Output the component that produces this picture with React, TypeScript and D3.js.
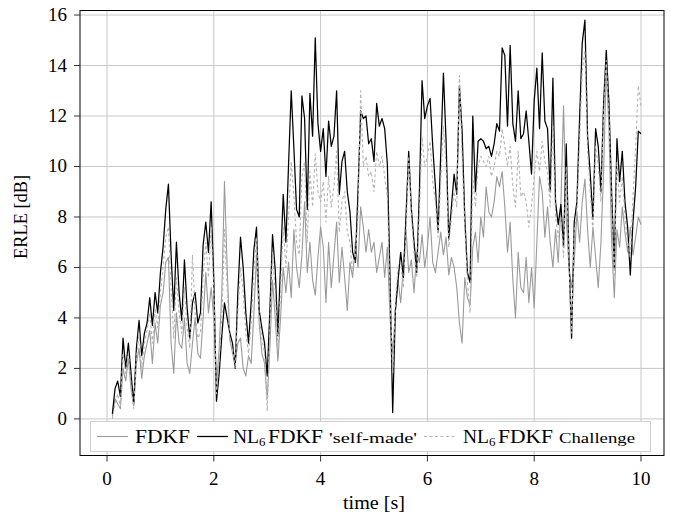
import React, { useMemo } from 'react';
import * as d3 from 'd3';

// ERLE over time, sampled every 50 ms starting at 0.1 s
const T_START = 0.1;
const T_STEP = 0.05;

const fdkf = [
  0.1, 0.8, 0.6, 0.4, 2.0, 1.5, 2.4, 1.2, 0.5, 2.2,
  2.8, 1.6, 2.5, 3.0, 3.5, 2.2, 3.8, 3.0, 4.5, 5.0,
  6.2, 6.4, 3.0, 1.8, 4.2, 3.0, 2.8, 4.0, 2.2, 1.8,
  3.0, 4.0, 2.6, 2.4, 4.0, 5.8, 4.2, 5.2, 4.0, 1.3,
  2.8, 5.0, 9.4, 6.0, 3.2, 2.6, 2.2, 3.0, 3.2, 2.0,
  1.7, 2.5, 2.2, 4.2, 6.5, 3.8, 2.6, 2.2, 0.8, 2.8,
  5.5, 4.0, 2.3, 4.0, 6.0, 5.0, 6.2, 4.8, 7.5, 6.0,
  5.2, 6.5, 8.6, 5.8, 7.0, 5.5, 4.9, 6.4, 7.6, 6.8,
  4.6, 7.0, 5.2, 6.5, 7.8, 5.4, 6.8, 5.6, 4.3, 6.2,
  5.6, 7.0, 6.0, 8.4, 7.6, 6.6, 7.5, 6.6, 7.0, 5.8,
  6.4, 7.0, 5.6, 6.8, 4.0, 2.6, 4.2, 5.5, 4.6, 6.0,
  7.5, 5.8, 6.3, 5.0, 6.6, 6.2, 7.3, 6.0, 6.8, 8.0,
  6.2, 5.8, 6.6, 7.4, 6.5, 7.2, 5.7, 6.4, 6.0, 5.2,
  3.8, 3.0, 5.6, 4.8, 4.5, 6.8, 7.4, 6.2, 8.0, 7.2,
  9.2, 8.2, 8.0, 8.6, 9.6, 9.2, 9.8, 8.4, 6.6, 7.8,
  5.5, 4.0, 6.6, 5.2, 5.0, 6.4, 4.6, 6.0, 4.4, 7.0,
  9.6, 9.0, 7.2, 8.4, 7.0, 6.0, 7.5, 6.2, 8.5, 12.4,
  8.0, 6.0, 5.2, 6.2, 8.2, 7.0, 8.6, 9.5, 7.5, 6.0,
  7.6, 6.4, 5.2, 7.0, 9.8, 13.9, 11.5, 7.0, 4.8, 7.5,
  6.8, 8.4, 7.4, 6.6, 7.6, 6.5, 7.2, 8.0, 7.7,
];

const selfMade = [
  0.2, 1.2, 1.5, 0.9, 3.2, 2.0, 3.0, 1.8, 0.6, 2.8,
  3.9, 2.5, 3.4, 3.8, 4.8, 3.7, 5.0, 4.2, 5.8, 6.8,
  8.3, 9.3, 6.5, 4.3, 7.0, 5.0, 3.9, 6.3, 4.4, 3.2,
  4.6, 5.0, 3.8, 4.2, 6.9, 7.8, 6.6, 8.6, 5.5, 0.7,
  1.8, 3.3, 4.6, 4.0, 3.4, 3.0, 2.0, 5.0, 7.2, 6.0,
  4.2, 3.0, 4.6, 6.7, 7.6, 4.3, 3.6, 3.0, 1.7, 4.3,
  7.3, 5.9, 3.3, 6.1, 8.9, 7.0, 10.1, 13.0, 10.7, 8.3,
  8.0, 12.8, 11.9, 8.3, 12.9, 11.2, 15.1, 11.7, 10.6, 11.5,
  9.6, 11.8, 10.8, 11.2, 13.0, 8.9, 10.2, 10.6, 9.0, 8.2,
  6.6, 6.2, 9.0, 12.2, 11.9, 12.0, 10.9, 11.1, 10.2, 12.5,
  11.6, 11.9, 11.5, 10.1, 5.6, 0.25, 4.3, 5.5, 6.6, 5.6,
  8.1, 10.6, 8.3, 7.0, 5.8, 9.0, 13.4, 11.9, 12.4, 12.7,
  10.8, 9.2, 7.4, 10.5, 13.7, 11.0, 7.1, 8.4, 9.7, 8.9,
  13.2, 11.4, 8.0, 5.8, 5.4, 12.0, 9.0, 11.0, 11.1, 11.0,
  10.7, 10.8, 10.4, 10.9, 11.7, 11.4, 14.7, 14.4, 11.6, 14.8,
  11.7, 11.0, 13.0, 11.1, 11.3, 12.2, 11.0, 9.7, 12.6, 13.9,
  11.5, 14.5, 11.8, 11.5, 9.0, 13.5, 8.6, 7.7, 8.5, 6.8,
  10.9, 6.5, 3.2, 7.8, 8.6, 11.9, 14.9, 15.8, 11.2, 9.7,
  7.9, 11.5, 10.8, 9.0, 12.5, 14.6, 12.5, 9.0, 6.0, 11.1,
  9.4, 10.6, 8.6, 7.6, 5.7, 7.8, 9.2, 11.4, 11.3,
];

const challenge = [
  0.0, 0.6, 1.0, 0.5, 2.6, 1.8, 2.6, 1.3, 0.4, 2.4,
  3.4, 2.0, 3.0, 3.5, 4.2, 3.0, 4.4, 3.6, 5.0, 6.0,
  7.2, 7.6, 5.2, 3.2, 5.6, 4.2, 3.4, 5.2, 3.6, 2.8,
  6.5, 4.2, 3.2, 3.4, 5.6, 7.0, 5.6, 7.6, 5.0, 1.0,
  2.4, 4.0, 7.5, 5.2, 3.0, 2.8, 2.0, 4.2, 6.0, 5.0,
  3.4, 2.6, 3.8, 5.8, 7.2, 4.0, 3.2, 2.6, 0.3, 3.6,
  6.6, 5.0, 2.8, 5.0, 7.6, 6.0, 8.0, 10.2, 8.8, 7.0,
  6.5, 9.6, 10.2, 7.0, 9.8, 8.4, 10.5, 9.0, 8.6, 9.4,
  7.8, 9.6, 8.4, 9.2, 10.6, 7.4, 8.6, 9.0, 7.4, 7.0,
  5.8, 6.4, 8.0, 13.0, 10.0, 10.4, 9.6, 9.8, 9.0, 10.6,
  10.0, 10.4, 9.6, 8.8, 4.8, 1.8, 4.6, 6.0, 6.2, 5.2,
  7.4, 10.4, 8.0, 6.6, 5.6, 8.2, 11.2, 10.0, 10.4, 11.0,
  9.4, 8.6, 7.2, 9.4, 11.6, 10.0, 6.8, 8.0, 9.0, 8.4,
  13.6, 10.4, 7.6, 5.4, 4.2, 9.6, 8.4, 10.0, 10.4, 10.2,
  10.0, 10.4, 9.6, 10.0, 10.6, 10.4, 11.5, 10.8, 10.0, 10.8,
  9.2, 8.4, 10.6, 8.8, 9.0, 8.6, 7.6, 8.4, 9.6, 10.6,
  9.8, 11.0, 10.2, 9.8, 8.4, 11.6, 8.0, 7.2, 8.0, 6.4,
  10.0, 6.2, 3.4, 7.4, 8.2, 11.0, 13.8, 14.6, 10.6, 9.0,
  7.4, 10.8, 10.0, 8.6, 12.0, 14.2, 12.0, 8.4, 5.6, 10.2,
  8.6, 9.6, 8.0, 7.0, 6.4, 8.8, 10.8, 13.2, 12.4,
];

const xTicks = [0, 2, 4, 6, 8, 10];
const yTicks = [0, 2, 4, 6, 8, 10, 12, 14, 16];

const W = 675;
const H = 516;
const plot = { left: 80, right: 664, top: 10.5, bottom: 455.5 };
const FONT = "'Liberation Serif', 'DejaVu Serif', serif";

const series = [
  { key: 'fdkf', values: fdkf, color: '#9a9a9a', width: 1.1, dash: null },
  { key: 'self', values: selfMade, color: '#000', width: 1.25, dash: null },
  { key: 'chal', values: challenge, color: '#b4b4b4', width: 1.1, dash: '3,2.5' },
];

// legend label with a subscript 6, fixed widths so it spans like the original
function NlLabel({ x, y, tail, tailWidth }: { x: number; y: number; tail: string; tailWidth: number }) {
  return (
    <g>
      <text x={x} y={y} fontSize={19} textLength={26} lengthAdjust="spacingAndGlyphs">NL</text>
      <text x={x + 26} y={y + 3} fontSize={13}>6</text>
      <text x={x + 35} y={y} fontSize={19} textLength={55} lengthAdjust="spacingAndGlyphs">FDKF</text>
      <text x={x + 96} y={y} fontSize={15} textLength={tailWidth} lengthAdjust="spacingAndGlyphs">{tail}</text>
    </g>
  );
}

export default function App() {
  const x = useMemo(() => d3.scaleLinear().domain([-0.506, 10.431]).range([plot.left, plot.right]), []);
  const y = useMemo(() => d3.scaleLinear().domain([-1.45, 16.18]).range([plot.bottom, plot.top]), []);

  const line = d3.line<number>()
    .x((_, i) => x(T_START + i * T_STEP))
    .y((d) => y(d));

  const lgY = 436.5;

  return (
    <svg width={W} height={H} style={{ position: 'absolute', left: 0, top: 0, background: '#fff' }} fontFamily={FONT}>
      <defs>
        <clipPath id="plotclip">
          <rect x={plot.left} y={plot.top} width={plot.right - plot.left} height={plot.bottom - plot.top} />
        </clipPath>
      </defs>

      {/* grid */}
      {xTicks.map((t) => (
        <line key={'gx' + t} x1={x(t)} x2={x(t)} y1={plot.top} y2={plot.bottom} stroke="#c8c8c8" strokeWidth={1} />
      ))}
      {yTicks.map((t) => (
        <line key={'gy' + t} x1={plot.left} x2={plot.right} y1={y(t)} y2={y(t)} stroke="#c8c8c8" strokeWidth={1} />
      ))}

      {/* data */}
      <g clipPath="url(#plotclip)" fill="none" strokeLinejoin="round">
        {series.map((s) => (
          <path key={s.key} d={line(s.values) || ''} stroke={s.color} strokeWidth={s.width}
            strokeDasharray={s.dash || undefined} />
        ))}
      </g>

      {/* legend */}
      <rect x={90.5} y={421.5} width={560} height={30} fill="#fff" stroke="#cfcfcf" strokeWidth={1} />
      <line x1={97} x2={128} y1={lgY} y2={lgY} stroke="#9a9a9a" strokeWidth={1.1} />
      <text x={135} y={lgY + 6} fontSize={19} textLength={55} lengthAdjust="spacingAndGlyphs">FDKF</text>
      <line x1={197} x2={228} y1={lgY} y2={lgY} stroke="#000" strokeWidth={1.25} />
      <NlLabel x={233} y={lgY + 6} tail="'self-made'" tailWidth={88} />
      <line x1={424} x2={456} y1={lgY} y2={lgY} stroke="#b4b4b4" strokeWidth={1.1} strokeDasharray="3,2.5" />
      <NlLabel x={463} y={lgY + 6} tail="Challenge" tailWidth={76} />

      {/* frame */}
      <rect x={plot.left} y={plot.top} width={plot.right - plot.left} height={plot.bottom - plot.top}
        fill="none" stroke="#000" strokeWidth={1} />

      {/* ticks */}
      {xTicks.map((t) => (
        <g key={'tx' + t}>
          <line x1={x(t)} x2={x(t)} y1={plot.bottom} y2={plot.bottom + 6} stroke="#333" strokeWidth={1} />
          <text x={x(t)} y={485} fontSize={19} textAnchor="middle">{t}</text>
        </g>
      ))}
      {yTicks.map((t) => (
        <g key={'ty' + t}>
          <line x1={plot.left - 6} x2={plot.left} y1={y(t)} y2={y(t)} stroke="#333" strokeWidth={1} />
          <text x={67} y={y(t) + 6} fontSize={19} textAnchor="end">{t}</text>
        </g>
      ))}

      {/* axis labels */}
      <text x={374} y={509} fontSize={19} textAnchor="middle" textLength={62} lengthAdjust="spacingAndGlyphs">time [s]</text>
      <text transform={`translate(27,${y(8)}) rotate(-90)`} fontSize={19} textAnchor="middle"
        textLength={84} lengthAdjust="spacingAndGlyphs">ERLE [dB]</text>
    </svg>
  );
}
